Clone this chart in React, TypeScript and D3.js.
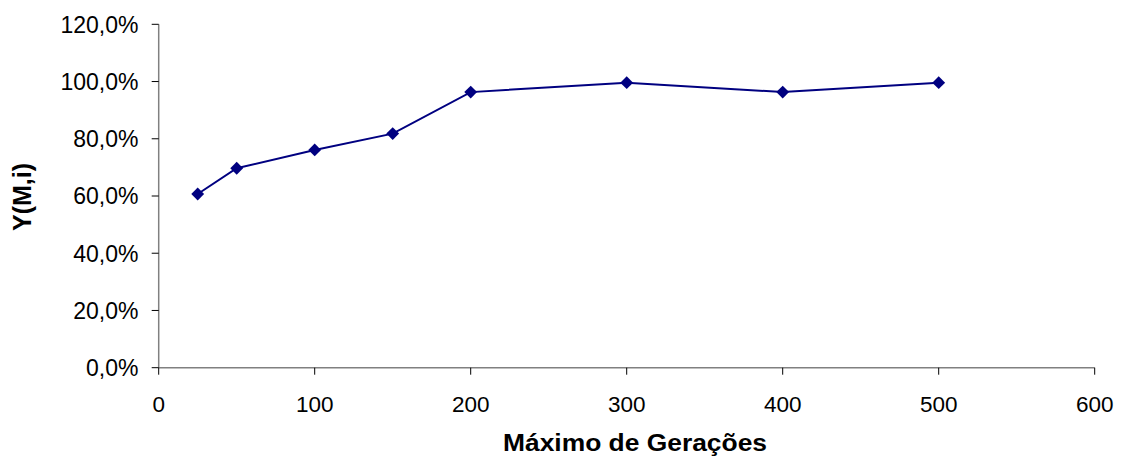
import React from "react";
import * as d3 from "d3";

const generations = [25, 50, 100, 150, 200, 300, 400, 500];
const yValues = [0.607, 0.697, 0.761, 0.818, 0.963, 0.996, 0.963, 0.996];
const xTicks = [0, 100, 200, 300, 400, 500, 600];
const yTicks = [0, 0.2, 0.4, 0.6, 0.8, 1.0, 1.2];
const xTitle = "Máximo de Gerações";
const yTitle = "Y(M,i)";

const W = 1126;
const H = 459;
const left = 158.7;
const right = 1094.7;
const top = 24.3;
const bottom = 367.7;

export default function App() {
  const x = d3.scaleLinear().domain([0, 600]).range([left, right]);
  const y = d3.scaleLinear().domain([0, 1.2]).range([bottom, top]);
  const line = d3
    .line<number>()
    .x((_, i) => x(generations[i]))
    .y((d) => y(d));
  const diamond = d3.symbol().type(d3.symbolDiamond2).size(105)();
  const fmt = (v: number) => (v * 100).toFixed(1).replace(".", ",") + "%";
  const font = "'Liberation Sans', Arial, sans-serif";

  return (
    <svg
      width={W}
      height={H}
      style={{ position: "absolute", left: 0, top: 0, background: "#fff" }}
      fontFamily={font}
    >
      <rect x={0} y={0} width={W} height={H} fill="#fff" />
      {/* Axes */}
      <line x1={left} x2={left} y1={top} y2={bottom} stroke="#808080" strokeWidth={1.5} />
      <line x1={left} x2={right} y1={bottom} y2={bottom} stroke="#808080" strokeWidth={1.5} />
      {yTicks.map((t) => (
        <g key={"y" + t}>
          <line x1={left - 7} x2={left} y1={y(t)} y2={y(t)} stroke="#000" strokeWidth={1} />
          <text
            x={138.5}
            y={y(t)}
            dy="0.36em"
            textAnchor="end"
            fontSize={23}
            fill="#000"
          >
            {fmt(t)}
          </text>
        </g>
      ))}
      {xTicks.map((t) => (
        <g key={"x" + t}>
          <line x1={x(t)} x2={x(t)} y1={bottom} y2={bottom + 7} stroke="#000" strokeWidth={1} />
          <text x={x(t)} y={411.5} textAnchor="middle" fontSize={22.5} fill="#000">
            {t}
          </text>
        </g>
      ))}
      {/* Series */}
      <path d={line(yValues) || ""} fill="none" stroke="#000080" strokeWidth={2} />
      {yValues.map((v, i) => (
        <path
          key={"m" + i}
          d={diamond || ""}
          transform={`translate(${x(generations[i])},${y(v)})`}
          fill="#000080"
        />
      ))}
      {/* Titles */}
      <text
        x={635}
        y={451}
        textAnchor="middle"
        fontSize={23}
        fontWeight="bold"
        fill="#000"
        textLength={264}
        lengthAdjust="spacingAndGlyphs"
      >
        {xTitle}
      </text>
      <text
        transform={`translate(31,197) rotate(-90)`}
        textAnchor="middle"
        fontSize={25}
        fontWeight="bold"
        fill="#000"
      >
        {yTitle}
      </text>
    </svg>
  );
}
